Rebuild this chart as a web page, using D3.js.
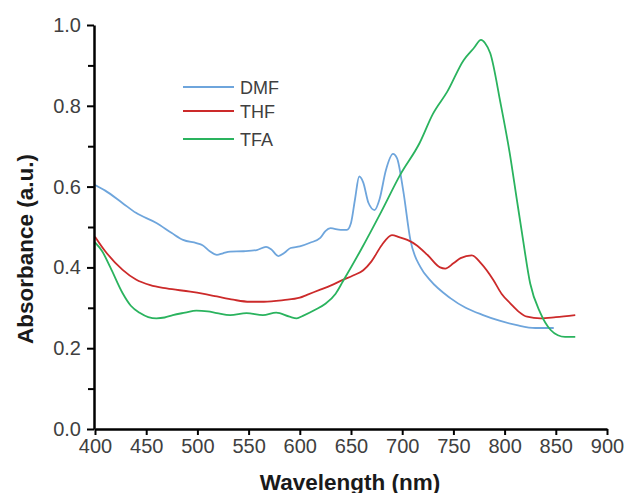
<!DOCTYPE html>
<html>
<head>
<meta charset="utf-8">
<script src="https://cdn.jsdelivr.net/npm/d3@7"></script>
<style>
  html, body { margin: 0; padding: 0; background: #fff; }
  svg { display: block; font-family: "Liberation Sans", Arial, sans-serif; }
</style>
</head>
<body>
<svg id="chart" width="629" height="493"></svg>
<script>
// wavelength (nm) / absorbance pairs
const dmfWl = [400, 410, 427, 440, 460, 475, 486, 499, 505, 512, 519, 525, 532, 545, 558, 567, 572, 579, 585, 591, 600, 610, 620, 625, 630, 640, 646, 650, 654, 658, 662, 667, 673, 678, 684, 691, 695, 701, 708, 718, 727, 747, 762, 779, 795, 812, 830, 848];
const dmfAbs = [0.604, 0.59, 0.559, 0.535, 0.51, 0.485, 0.468, 0.46, 0.455, 0.44, 0.431, 0.435, 0.439, 0.44, 0.443, 0.451, 0.445, 0.428, 0.436, 0.448, 0.452, 0.461, 0.473, 0.49, 0.497, 0.493, 0.493, 0.51, 0.57, 0.625, 0.61, 0.56, 0.542, 0.57, 0.64, 0.681, 0.67, 0.59, 0.468, 0.40, 0.369, 0.324, 0.3, 0.282, 0.268, 0.257, 0.25, 0.25];

const thfWl = [400, 410, 427, 440, 454, 470, 493, 505, 519, 535, 551, 565, 584, 600, 607, 620, 630, 642, 652, 662, 670, 680, 690, 697, 705, 714, 725, 737, 742, 750, 757, 768, 777, 789, 797, 806, 814, 822, 835, 850, 869];
const thfAbs = [0.476, 0.44, 0.394, 0.37, 0.356, 0.348, 0.34, 0.335, 0.328, 0.32, 0.315, 0.315, 0.319, 0.325, 0.332, 0.345, 0.355, 0.369, 0.38, 0.393, 0.415, 0.455, 0.48, 0.475, 0.468, 0.455, 0.43, 0.40, 0.397, 0.41, 0.423, 0.43, 0.41, 0.369, 0.335, 0.31, 0.29, 0.278, 0.274, 0.277, 0.282];

const tfaWl = [400, 407, 415, 427, 435, 444, 452, 460, 468, 476, 488, 499, 510, 519, 532, 548, 564, 577, 590, 597, 603, 615, 625, 635, 642, 660, 680, 698, 717, 730, 744, 760, 770, 777, 781, 786, 796, 805, 812, 817, 825, 835, 845, 852, 859, 869];
const tfaAbs = [0.462, 0.44, 0.40, 0.336, 0.305, 0.287, 0.277, 0.274, 0.276, 0.282, 0.288, 0.293, 0.291, 0.287, 0.282, 0.287, 0.282, 0.288, 0.278, 0.274, 0.28, 0.295, 0.31, 0.335, 0.365, 0.445, 0.54, 0.629, 0.708, 0.78, 0.835, 0.913, 0.943, 0.963, 0.955, 0.93, 0.807, 0.683, 0.567, 0.485, 0.36, 0.287, 0.245, 0.232, 0.228, 0.228];

const seriesNames = ["DMF", "THF", "TFA"];
const xTicks = [400, 450, 500, 550, 600, 650, 700, 750, 800, 850, 900];
const yTicks = [0, 0.2, 0.4, 0.6, 0.8, 1.0];
const yMinorTicks = [0.1, 0.3, 0.5, 0.7, 0.9];

const colors = ["#6ea5dc", "#cc2a2a", "#2ab35e"];

const svg = d3.select("#chart");

const x = d3.scaleLinear().domain([400, 900]).range([95, 607]);
const y = d3.scaleLinear().domain([0, 1]).range([429, 25]);

const series = [
  dmfWl.map((w, i) => ({ w, a: dmfAbs[i] })),
  thfWl.map((w, i) => ({ w, a: thfAbs[i] })),
  tfaWl.map((w, i) => ({ w, a: tfaAbs[i] })),
];

const line = d3
  .line()
  .x((d) => x(d.w))
  .y((d) => y(d.a))
  .curve(d3.curveMonotoneX);

// draw order: blue under red under green as in the figure
svg
  .selectAll("path.series")
  .data(series)
  .join("path")
  .attr("class", "series")
  .attr("fill", "none")
  .attr("stroke", (d, i) => colors[i])
  .attr("stroke-width", 1.8)
  .attr("stroke-linejoin", "round")
  .attr("d", line);

// axes
const xAxis = svg
  .append("g")
  .attr("transform", `translate(0,${y(0)})`)
  .call(d3.axisBottom(x).tickValues(xTicks).tickSize(6).tickSizeOuter(0).tickPadding(4));

const yAxis = svg
  .append("g")
  .attr("transform", `translate(${x(400) - 1},0)`)
  .call(d3.axisLeft(y).tickValues(yTicks).tickSize(7).tickSizeOuter(0).tickPadding(6).tickFormat(d3.format(".1f")));

svg
  .append("g")
  .attr("transform", `translate(${x(400) - 1},0)`)
  .call(d3.axisLeft(y).tickValues(yMinorTicks).tickSize(6).tickSizeOuter(0).tickFormat(""))
  .select(".domain")
  .remove();

svg.selectAll(".domain").attr("stroke", "#000").attr("stroke-width", 2.5);
svg.selectAll(".tick line").attr("stroke", "#000").attr("stroke-width", 2);
svg
  .selectAll(".tick text")
  .attr("fill", "#404040")
  .attr("font-size", 20)
  .attr("font-family", "Liberation Sans, Arial, sans-serif");

// axis titles
svg
  .append("text")
  .attr("x", 350)
  .attr("y", 490)
  .attr("text-anchor", "middle")
  .attr("font-size", 22.5)
  .attr("font-weight", "bold")
  .attr("fill", "#1a1a1a")
  .text("Wavelength (nm)");

svg
  .append("text")
  .attr("transform", "translate(33,249) rotate(-90)")
  .attr("text-anchor", "middle")
  .attr("font-size", 22.5)
  .attr("font-weight", "bold")
  .attr("fill", "#1a1a1a")
  .text("Absorbance (a.u.)");

// legend
const legendY = [87, 111, 139];
const legend = svg
  .append("g")
  .selectAll("g")
  .data(seriesNames)
  .join("g")
  .attr("transform", (d, i) => `translate(183,${legendY[i]})`);

legend
  .append("line")
  .attr("x1", 0)
  .attr("x2", 51)
  .attr("stroke", (d, i) => colors[i])
  .attr("stroke-width", 1.8);

legend
  .append("text")
  .attr("x", 57)
  .attr("y", 7)
  .attr("fill", "#404040")
  .attr("font-size", 18)
  .text((d) => d);
</script>
</body>
</html>
